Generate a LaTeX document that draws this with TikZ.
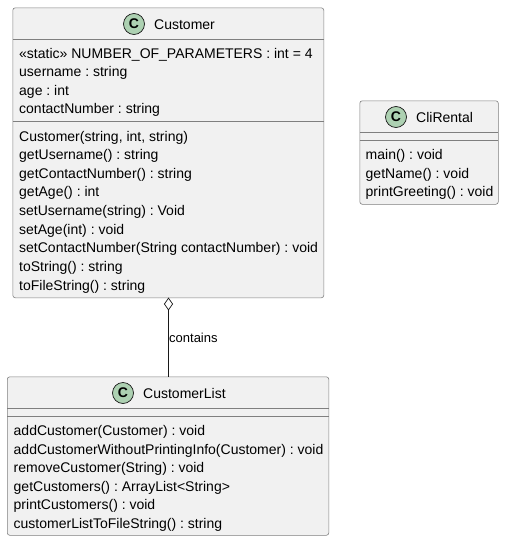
\documentclass[tikz,border=0pt]{standalone}
\usepackage{fontspec}
\setmainfont{Liberation Sans}
\usetikzlibrary{arrows,positioning,shapes.geometric}
\definecolor{boxfill}{HTML}{F1F1F1}
\definecolor{boxline}{HTML}{7F7F7F}
\definecolor{spotfill}{HTML}{ADD1B2}
\definecolor{spotline}{HTML}{181818}
\begin{document}
\begin{tikzpicture}[
x=1pt,y=-1pt,
font=\fontsize{14}{18.65}\selectfont\frenchspacing,
classbox/.style={draw=boxline,fill=boxfill,rounded corners=2.5pt,line width=0.6pt,anchor=north west,inner sep=0pt},
divider/.style={draw=boxline,line width=0.6pt},
spot/.style={circle,draw=spotline,fill=spotfill,line width=0.7pt,minimum size=21pt,inner sep=0pt,font=\fontsize{14}{14}\selectfont\bfseries},
title/.style={anchor=west,inner sep=0pt},
members/.style={anchor=north west,align=left,inner sep=0pt},
link/.style={draw=spotline,line width=0.7pt},
hollow/.style={diamond,draw=spotline,fill=white,line width=0.7pt,aspect=0.7,minimum width=8.5pt,minimum height=12pt,inner sep=0pt}
]
    \useasboundingbox (0,0) rectangle (504,541);

    % Customer
    \node (customer) [classbox,minimum width=311pt,minimum height=290pt] at (12.5,7.5) {};
    \draw[divider] (12.5,39.5) -- (323.5,39.5);
    \draw[divider] (12.5,121.5) -- (323.5,121.5);
    \node (customerspot) [spot] at (134,24) {C};
    \node (customername) [title] at (154,24.5) {Customer};
    \node (customerattr) [members] at (19,47.7) {%
        «static» NUMBER\_OF\_PARAMETERS : int = 4\\
        username : string\\
        age : int\\
        contactNumber : string};
    \node (customerops) [members] at (19,130.7) {%
        Customer(string, int, string)\\
        getUsername() : string\\
        getContactNumber() : string\\
        getAge() : int\\
        setUsername(string) : Void\\
        setAge(int) : void\\
        setContactNumber(String contactNumber) : void\\
        toString() : string\\
        toFileString() : string};

    % CliRental
    \node (clirental) [classbox,minimum width=138.5pt,minimum height=103.5pt] at (359.5,100.5) {};
    \draw[divider] (359.5,132.5) -- (498,132.5);
    \draw[divider] (359.5,140.5) -- (498,140.5);
    \node (clirentalspot) [spot] at (396,117) {C};
    \node (clirentalname) [title] at (416,117.5) {CliRental};
    \node (clirentalops) [members] at (365.5,149.2) {%
        main() : void\\
        getName() : void\\
        printGreeting() : void};

    % CustomerList
    \node (customerlist) [classbox,minimum width=321.5pt,minimum height=158.5pt] at (7,376.5) {};
    \draw[divider] (7,408.5) -- (328.5,408.5);
    \draw[divider] (7,416.5) -- (328.5,416.5);
    \node (customerlistspot) [spot] at (123,393) {C};
    \node (customerlistname) [title] at (143,393.5) {CustomerList};
    \node (customerlistops) [members] at (13.5,425) {%
        addCustomer(Customer) : void\\
        addCustomerWithoutPrintingInfo(Customer) : void\\
        removeCustomer(String) : void\\
        getCustomers() : ArrayList<String>\\
        printCustomers() : void\\
        customerListToFileString() : string};

    % aggregation
    \node (aggregation) [hollow] at (168.5,304) {};
    \draw[link] (aggregation.south) -- (aggregation.south |- customerlist.north);
    \node (containslabel) [anchor=west,inner sep=0pt,font=\fontsize{13}{15}\selectfont] at (169,338) {contains};
\end{tikzpicture}
\end{document}
